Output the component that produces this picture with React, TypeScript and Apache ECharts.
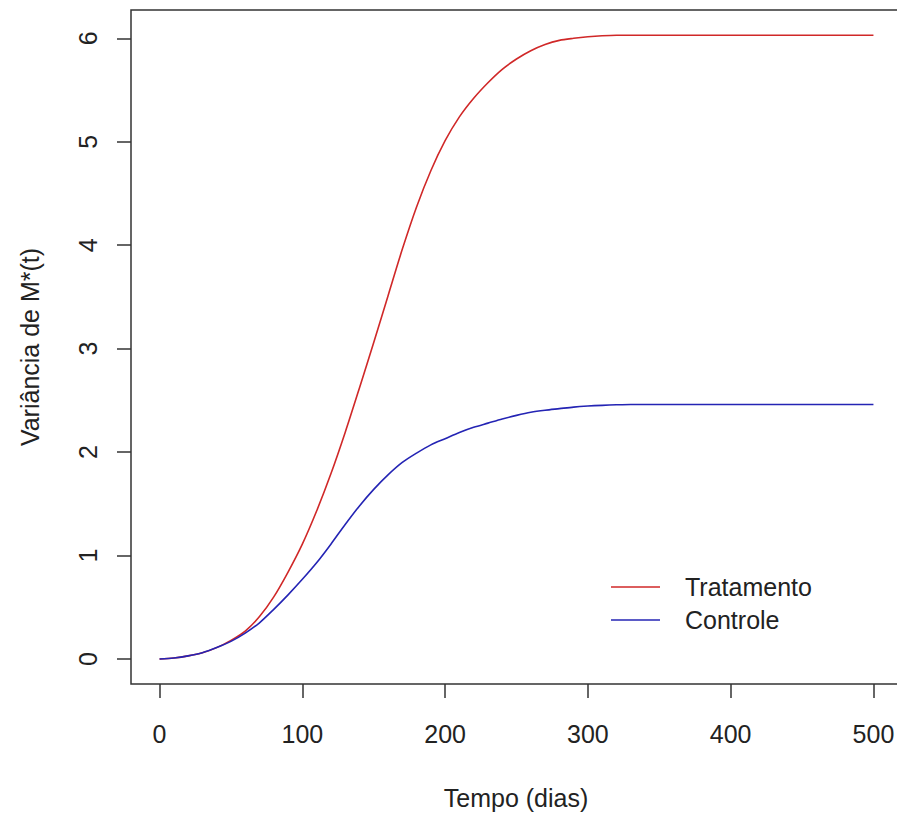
import React, { useEffect, useRef } from "react";
import * as echarts from "echarts";

const days = [0, 10, 20, 30, 40, 50, 60, 70, 80, 90, 100, 110, 120, 130, 140, 150, 160, 170, 180, 190, 200, 210, 220, 230, 240, 250, 260, 270, 280, 290, 300, 310, 320, 330, 340, 350, 360, 370, 380, 390, 400, 410, 420, 430, 440, 450, 460, 470, 480, 490, 500];
const tratamento = [0, 0.01, 0.03, 0.06, 0.11, 0.18, 0.27, 0.41, 0.60, 0.84, 1.11, 1.43, 1.79, 2.19, 2.62, 3.06, 3.51, 3.96, 4.37, 4.72, 5.01, 5.24, 5.42, 5.57, 5.70, 5.80, 5.88, 5.94, 5.98, 6.00, 6.015, 6.025, 6.03, 6.03, 6.03, 6.03, 6.03, 6.03, 6.03, 6.03, 6.03, 6.03, 6.03, 6.03, 6.03, 6.03, 6.03, 6.03, 6.03, 6.03, 6.03];
const controle = [0, 0.01, 0.03, 0.06, 0.11, 0.17, 0.25, 0.35, 0.48, 0.62, 0.77, 0.93, 1.11, 1.30, 1.48, 1.64, 1.78, 1.90, 1.99, 2.07, 2.13, 2.19, 2.24, 2.28, 2.32, 2.355, 2.385, 2.405, 2.42, 2.435, 2.445, 2.452, 2.457, 2.46, 2.46, 2.46, 2.46, 2.46, 2.46, 2.46, 2.46, 2.46, 2.46, 2.46, 2.46, 2.46, 2.46, 2.46, 2.46, 2.46, 2.46];
const xTicks = [0, 100, 200, 300, 400, 500];
const yTicks = [0, 1, 2, 3, 4, 5, 6];
const seriesNames = ["Tratamento", "Controle"];
const xTitle = "Tempo (dias)";
const yTitle = "Variância de M*(t)";

const RED = "#d02828";
const BLUE = "#2424b4";
const FONT = "Liberation Sans, Arial, sans-serif";
const INK = "#222";

export default function App() {
  const ref = useRef<HTMLDivElement>(null);
  useEffect(() => {
    if (!ref.current) return;
    const chart = echarts.init(ref.current, null, { renderer: "svg" });
    chart.setOption({
      animation: false,
      backgroundColor: "#fff",
      grid: {
        left: 131,
        top: 10,
        width: 771,
        height: 674,
        outerBoundsMode: "none",
        containLabel: false,
        show: true,
        borderColor: "#333",
        borderWidth: 1.5,
        backgroundColor: "transparent",
      },
      xAxis: {
        type: "value",
        min: -20,
        max: 520,
        axisLine: { show: false, onZero: false },
        splitLine: { show: false },
        axisTick: {
          show: true,
          inside: false,
          length: 14,
          customValues: xTicks,
          lineStyle: { color: "#333", width: 1.5 },
        },
        axisLabel: {
          customValues: xTicks,
          margin: 37,
          fontSize: 25,
          fontFamily: FONT,
          color: INK,
        },
      },
      yAxis: {
        type: "value",
        min: -0.2417,
        max: 6.2736,
        axisLine: { show: false, onZero: false },
        splitLine: { show: false },
        axisTick: {
          show: true,
          inside: false,
          length: 14,
          customValues: yTicks,
          lineStyle: { color: "#333", width: 1.5 },
        },
        axisLabel: {
          customValues: yTicks,
          rotate: 90,
          margin: 31,
          fontSize: 25,
          fontFamily: FONT,
          color: INK,
        },
      },
      series: [
        {
          name: seriesNames[0],
          type: "line",
          data: days.map((d, i) => [d, tratamento[i]]),
          showSymbol: false,
          smooth: 0.3,
          lineStyle: { color: RED, width: 1.6 },
          itemStyle: { color: RED },
          z: 3,
        },
        {
          name: seriesNames[1],
          type: "line",
          data: days.map((d, i) => [d, controle[i]]),
          showSymbol: false,
          smooth: 0.3,
          lineStyle: { color: BLUE, width: 1.6 },
          itemStyle: { color: BLUE },
          z: 4,
        },
      ],
      graphic: [
        { type: "line", shape: { x1: 611, y1: 587, x2: 660, y2: 587 }, style: { stroke: RED, lineWidth: 1.6 } },
        { type: "text", x: 685, y: 587, style: { text: seriesNames[0], font: `25px ${FONT}`, fill: INK, textVerticalAlign: "middle", textAlign: "left" } },
        { type: "line", shape: { x1: 611, y1: 620, x2: 660, y2: 620 }, style: { stroke: BLUE, lineWidth: 1.6 } },
        { type: "text", x: 685, y: 620, style: { text: seriesNames[1], font: `25px ${FONT}`, fill: INK, textVerticalAlign: "middle", textAlign: "left" } },
        { type: "text", x: 516, y: 798, style: { text: xTitle, font: `25px ${FONT}`, fill: INK, textVerticalAlign: "middle", textAlign: "center" } },
        { type: "text", x: 30, y: 347, rotation: Math.PI / 2, style: { text: yTitle, font: `25px ${FONT}`, fill: INK, textVerticalAlign: "middle", textAlign: "center" } },
      ],
    });
    return () => chart.dispose();
  }, []);
  return <div ref={ref} style={{ width: 897, height: 817, position: "absolute", left: 0, top: 0 }} />;
}
